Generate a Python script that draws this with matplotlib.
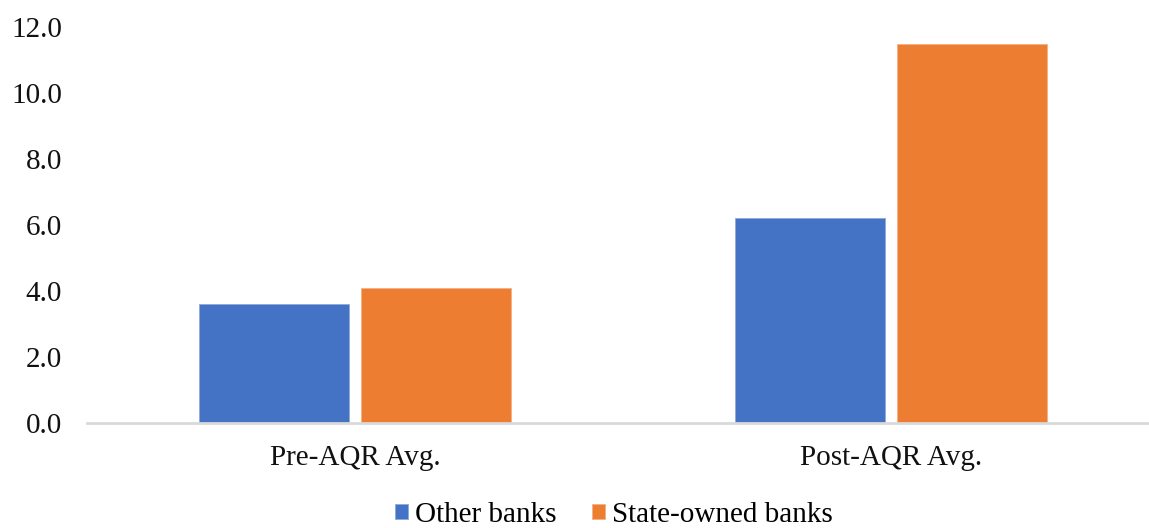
import matplotlib
matplotlib.use("Agg")
import matplotlib.pyplot as plt
import numpy as np

# NPL ratio by bank group, before and after the asset quality review
periods = ["Pre-AQR Avg.", "Post-AQR Avg."]
other_banks = [3.6, 6.2]
state_owned = [4.1, 11.5]

plt.rcParams["font.family"] = ["Liberation Serif", "DejaVu Serif"]

fig = plt.figure(figsize=(11.49, 5.28), dpi=100)
ax = fig.add_axes([87 / 1149, 105 / 528, 1072 / 1149, 396 / 528])

x = np.arange(len(periods))
w = 0.28
off = 0.151
ax.bar(x - off, other_banks, w, color="#4472C4", edgecolor="#8FAADC", linewidth=0.6,
       label="Other banks")
ax.bar(x + off, state_owned, w, color="#ED7D31", edgecolor="#F4B183", linewidth=0.6,
       label="State-owned banks")

ax.set_xlim(-0.5, 1.5)
ax.set_ylim(0, 12)
ax.set_yticks(np.arange(0, 12.1, 2))
ax.set_yticklabels([f"{v:.1f}" for v in np.arange(0, 12.1, 2)])
ax.set_xticks(x)
ax.set_xticklabels(periods)
ax.tick_params(axis="both", length=0, labelsize=21, colors="#111111")
ax.tick_params(axis="y", pad=18)
ax.tick_params(axis="x", pad=16)

for s in ["top", "right", "left"]:
    ax.spines[s].set_visible(False)
ax.spines["bottom"].set_color("#d9d9d9")
ax.spines["bottom"].set_linewidth(2)

fig.legend(loc="center", bbox_to_anchor=(614 / 1149, 13 / 528), ncol=2, frameon=False,
           fontsize=21, handlelength=0.45, handleheight=0.45, handletextpad=0.25,
           columnspacing=1.2)

fig.savefig("out.png", dpi=100)
